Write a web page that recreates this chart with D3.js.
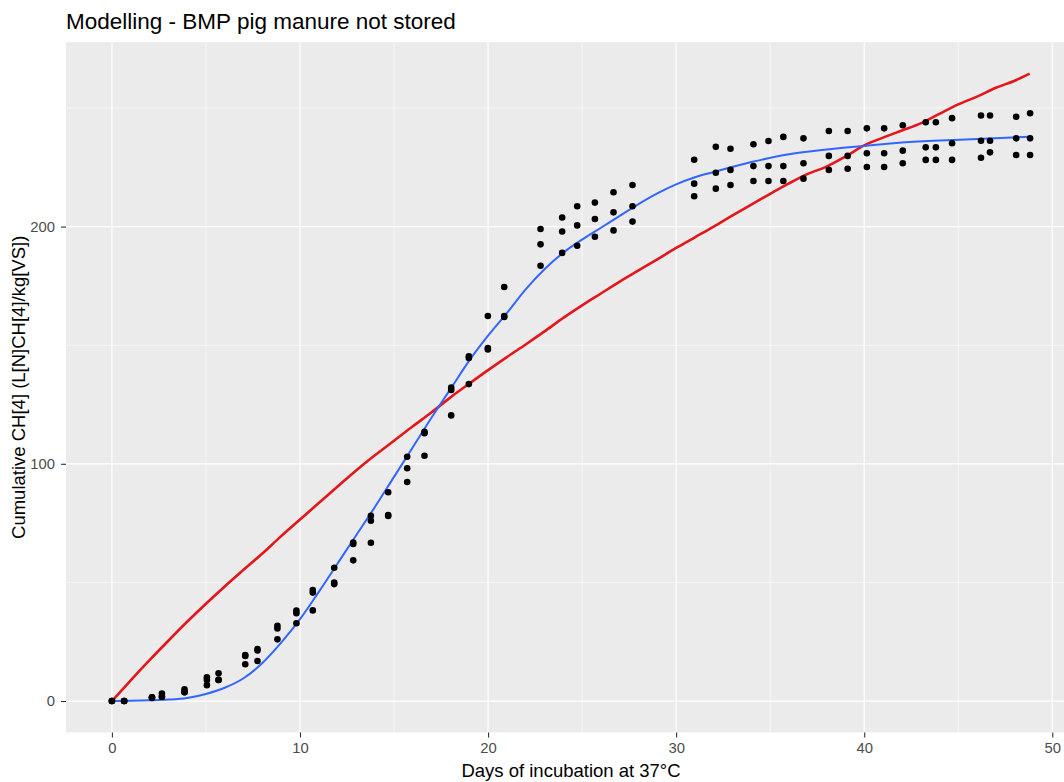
<!DOCTYPE html>
<html>
<head>
<meta charset="utf-8">
<script src="https://cdn.jsdelivr.net/npm/d3@7"></script>
<style>
  html, body { margin: 0; padding: 0; background: #ffffff; }
  svg { display: block; font-family: "Liberation Sans", Arial, sans-serif; }
</style>
</head>
<body>
<svg id="chart" width="1064" height="782"></svg>
<script>
// Measurement days of the BMP incubation
const obsDays = [0, 0.65, 2.13, 2.66, 3.86, 5.05, 5.67, 7.09, 7.74, 8.80, 9.81, 10.68,
  11.82, 12.83, 13.77, 14.69, 15.70, 16.62, 18.04, 18.98, 19.99, 20.86, 22.79, 23.94,
  24.74, 25.68, 26.67, 27.68, 30.96, 32.11, 32.89, 34.11, 34.91, 35.70, 36.77, 38.12,
  39.12, 40.14, 41.06, 42.05, 43.27, 43.81, 44.67, 46.21, 46.69, 48.08, 48.82];

// Cumulative CH4 of the three replicates on each day
const obsValues = [
  [0, 0, 0], [0, 0, 0], [1.3, 1.6, 1.6], [3.2, 1.8, 1.8], [4.9, 3.7, 3.7],
  [10.0, 8.9, 6.7], [11.7, 8.9, 8.9], [19.4, 19.0, 15.5], [21.9, 21.3, 16.9],
  [31.7, 30.6, 26.0], [38.1, 37.0, 32.8], [46.8, 45.7, 38.2], [56.2, 49.9, 49.3],
  [66.8, 66.2, 59.3], [78.1, 76.0, 66.7], [88.0, 78.4, 78.0], [103.0, 98.1, 92.3],
  [113.5, 112.9, 103.4], [132.1, 131.1, 120.4], [145.3, 144.6, 133.6],
  [162.3, 148.8, 148.2], [174.5, 162.3, 161.9], [199.0, 192.5, 183.5],
  [203.8, 197.9, 188.9], [208.6, 200.5, 191.9], [210.1, 203.2, 195.7],
  [214.5, 206.0, 198.4], [217.5, 208.6, 202.1], [228.2, 218.1, 212.8],
  [233.6, 222.7, 216.0], [232.8, 223.9, 217.5], [234.7, 225.5, 219.2],
  [236.1, 225.5, 219.2], [237.8, 225.5, 219.2], [237.2, 226.7, 220.2],
  [240.3, 229.8, 223.9], [240.3, 229.8, 224.4], [241.4, 230.9, 225.1],
  [241.4, 230.9, 225.1], [242.7, 232.0, 226.7], [244.0, 233.4, 228.1],
  [244.0, 233.4, 228.1], [245.7, 235.1, 228.1], [246.8, 236.2, 229.0],
  [246.8, 236.2, 231.3], [246.3, 237.2, 230.2], [247.8, 237.2, 230.2]
];

// Fitted curve (blue)
const fitDays = [0, 1, 2, 3, 4, 5, 6, 7, 8, 9, 10, 11, 12, 13, 14, 15, 16, 17, 18, 19, 20,
  21, 22, 23, 24, 25, 26, 27, 28, 29, 30, 31, 32, 34, 36, 38, 40, 42, 44, 46, 48.8];
const fitValues = [0, 0.1, 0.3, 0.6, 1.3, 3.0, 5.6, 9.6, 16.0, 24.6, 34.5, 46.0, 58.0,
  70.0, 82.0, 94.5, 107.0, 119.5, 131.5, 143.5, 154.0, 163.5, 173.5, 182.0, 189.0,
  194.5, 199.5, 204.5, 209.5, 214.0, 217.8, 220.8, 223.0, 227.2, 230.5, 232.5, 234.0,
  235.4, 236.3, 236.9, 237.9];

// Model curve (red)
const modelDays = [0, 1, 2, 3, 4, 5, 6, 7, 8, 9, 10, 11, 12, 13, 14, 15, 16, 17, 18, 19,
  20, 21, 22, 23, 24, 25, 26, 27, 28, 29, 30, 31, 32, 33, 34, 35, 36, 37, 38, 39, 40, 41,
  42, 43, 44, 45, 46, 47, 48, 48.8];
const modelValues = [0, 8.7, 17.2, 25.4, 33.4, 41.0, 48.3, 55.3, 62.2, 69.5, 76.5, 83.5,
  90.4, 97.3, 103.7, 109.7, 115.8, 121.7, 128.0, 133.8, 139.5, 145.0, 150.3, 155.8,
  161.5, 166.8, 171.8, 176.8, 181.5, 186.2, 191.0, 195.5, 200.0, 204.7, 209.3, 213.8,
  218.2, 222.2, 225.3, 229.5, 234.2, 237.5, 240.5, 243.5, 247.5, 251.5, 254.8, 258.5,
  261.5, 264.5];

const xTicks = [0, 10, 20, 30, 40, 50];
const xMinor = [5, 15, 25, 35, 45];
const yTicks = [0, 100, 200];
const yMinor = [50, 150, 250];

const titleText = "Modelling - BMP pig manure not stored";
const xTitle = "Days of incubation at 37\u00B0C";
const yTitle = "Cumulative CH[4] (L[N]CH[4]/kg[VS])";

// ---- layout ----
const panel = { left: 66, top: 42.2, right: 1076, bottom: 732.4 };

// data extents with 5% padding on each side
const allX = obsDays.concat(fitDays, modelDays);
const allY = obsValues.flat().concat(fitValues, modelValues);
function padded(vals) {
  const [lo, hi] = d3.extent(vals);
  const p = (hi - lo) * 0.05;
  return [lo - p, hi + p];
}

const x = d3.scaleLinear().domain(padded(allX)).range([panel.left, panel.right]);
const y = d3.scaleLinear().domain(padded(allY)).range([panel.bottom, panel.top]);

const svg = d3.select("#chart");

// panel background
svg.append("rect")
  .attr("x", panel.left).attr("y", panel.top)
  .attr("width", panel.right - panel.left).attr("height", panel.bottom - panel.top)
  .attr("fill", "#EBEBEB");

const grid = svg.append("g");
grid.selectAll("line.xminor").data(xMinor).join("line")
  .attr("x1", d => x(d)).attr("x2", d => x(d))
  .attr("y1", panel.top).attr("y2", panel.bottom)
  .attr("stroke", "#ffffff").attr("stroke-width", 0.6);
grid.selectAll("line.yminor").data(yMinor).join("line")
  .attr("y1", d => y(d)).attr("y2", d => y(d))
  .attr("x1", panel.left).attr("x2", panel.right)
  .attr("stroke", "#ffffff").attr("stroke-width", 0.6);
grid.selectAll("line.xmajor").data(xTicks).join("line")
  .attr("x1", d => x(d)).attr("x2", d => x(d))
  .attr("y1", panel.top).attr("y2", panel.bottom)
  .attr("stroke", "#ffffff").attr("stroke-width", 1.2);
grid.selectAll("line.ymajor").data(yTicks).join("line")
  .attr("y1", d => y(d)).attr("y2", d => y(d))
  .attr("x1", panel.left).attr("x2", panel.right)
  .attr("stroke", "#ffffff").attr("stroke-width", 1.2);

// axes
const xAxis = d3.axisBottom(x).tickValues(xTicks).tickSize(5).tickPadding(5);
const yAxis = d3.axisLeft(y).tickValues(yTicks).tickSize(5).tickPadding(6);

const gx = svg.append("g").attr("transform", `translate(0,${panel.bottom})`).call(xAxis);
const gy = svg.append("g").attr("transform", `translate(${panel.left},0)`).call(yAxis);
[gx, gy].forEach(g => {
  g.select(".domain").remove();
  g.selectAll(".tick line").attr("stroke", "#333333").attr("stroke-width", 1.1);
  g.selectAll(".tick text")
    .attr("fill", "#4D4D4D")
    .style("font-size", "14.8px")
    .style("font-family", "'Liberation Sans', Arial, sans-serif");
});

// curves
const line = d3.line().curve(d3.curveMonotoneX);
const modelPts = modelDays.map((d, i) => [x(d), y(modelValues[i])]);
const fitPts = fitDays.map((d, i) => [x(d), y(fitValues[i])]);

svg.append("path")
  .attr("d", line(modelPts))
  .attr("fill", "none").attr("stroke", "#E5161B").attr("stroke-width", 2.6)
  .attr("stroke-linejoin", "round");

svg.append("path")
  .attr("d", line(fitPts))
  .attr("fill", "none").attr("stroke", "#3366FF").attr("stroke-width", 2)
  .attr("stroke-linejoin", "round");

// observations
const pts = [];
obsDays.forEach((d, i) => obsValues[i].forEach(v => pts.push([d, v])));
svg.append("g").selectAll("circle").data(pts).join("circle")
  .attr("cx", d => x(d[0])).attr("cy", d => y(d[1]))
  .attr("r", 3.3).attr("fill", "#000000");

// titles
svg.append("text")
  .attr("x", panel.left).attr("y", 29)
  .style("font-size", "22.5px").attr("fill", "#000000")
  .text(titleText);

svg.append("text")
  .attr("x", (panel.left + panel.right) / 2).attr("y", 777)
  .attr("text-anchor", "middle")
  .style("font-size", "18.5px").attr("fill", "#000000")
  .text(xTitle);

svg.append("text")
  .attr("transform", `translate(25,${(panel.top + panel.bottom) / 2}) rotate(-90)`)
  .attr("text-anchor", "middle")
  .style("font-size", "18.5px").attr("fill", "#000000")
  .text(yTitle);
</script>
</body>
</html>
